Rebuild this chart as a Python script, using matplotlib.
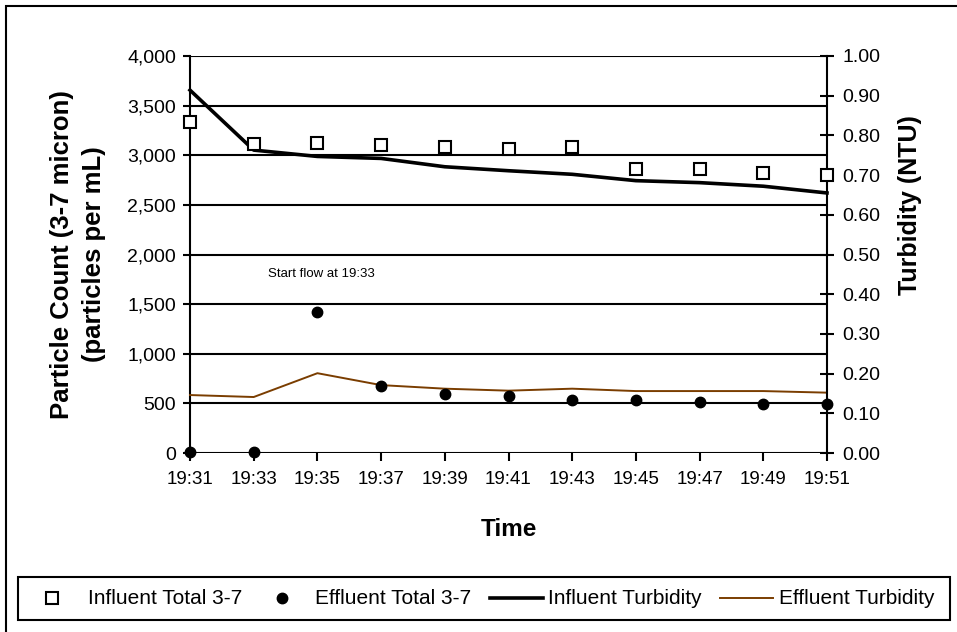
import matplotlib
matplotlib.use("Agg")
import matplotlib.pyplot as plt
from matplotlib.lines import Line2D
from matplotlib.patches import Rectangle

plt.rcParams['font.family'] = ['Liberation Sans', 'DejaVu Sans']

times = ["19:31", "19:33", "19:35", "19:37", "19:39", "19:41", "19:43",
         "19:45", "19:47", "19:49", "19:51"]
influent_total = [3330, 3110, 3120, 3100, 3080, 3060, 3080, 2860, 2860, 2820, 2800]
effluent_total = [10, 10, 1420, 675, 590, 570, 530, 530, 510, 490, 490]
influent_turb = [0.914, 0.763, 0.747, 0.742, 0.721, 0.711, 0.702, 0.686, 0.681, 0.672, 0.655]
effluent_turb = [0.146, 0.141, 0.201, 0.171, 0.162, 0.157, 0.162, 0.156, 0.156, 0.156, 0.152]
left_ticks = [0, 500, 1000, 1500, 2000, 2500, 3000, 3500, 4000]
right_ticks = [0.0, 0.1, 0.2, 0.3, 0.4, 0.5, 0.6, 0.7, 0.8, 0.9, 1.0]
labels = ["Influent Total 3-7", "Effluent Total 3-7", "Influent Turbidity", "Effluent Turbidity"]

BROWN = '#7a3d00'
W, H = 957, 632
fig = plt.figure(figsize=(W / 100, H / 100), dpi=100)
fig.patches.append(Rectangle((6 / W, -0.1), 1.2, (H - 6) / H + 0.1, transform=fig.transFigure,
                             fill=False, edgecolor='black', linewidth=1.5, zorder=0))

ax = fig.add_axes([190 / W, 1 - 453 / H, (827 - 190) / W, (453 - 56) / H])
ax2 = ax.twinx()
x = list(range(len(times)))

ax.set_ylim(0, 4000)
ax.set_xlim(0, len(times) - 1)
ax.set_yticks(left_ticks)
ax.set_yticklabels([f"{v:,}" for v in left_ticks], fontsize=14)
ax.set_xticks(x)
ax.set_xticklabels(times, fontsize=13.5)
ax.grid(axis='y', color='black', linewidth=1.5)
ax.set_axisbelow(True)
for s in ['top', 'bottom', 'right']:
    ax.spines[s].set_visible(False)
ax.spines['left'].set_linewidth(1.5)
ax.tick_params(axis='y', direction='out', length=5, width=1.5, pad=5)
ax.tick_params(axis='x', direction='out', length=6, width=1.5, pad=7)

ax2.set_ylim(0, 1.0)
ax2.set_yticks(right_ticks)
ax2.set_yticklabels([f"{v:.2f}" for v in right_ticks], fontsize=14)
ax2.tick_params(axis='y', direction='inout', length=10, width=1.5, pad=6)
for s in ['top', 'bottom', 'left']:
    ax2.spines[s].set_visible(False)
ax2.spines['right'].set_linewidth(1.5)

ax2.plot(x, influent_turb, color='black', linewidth=2.6, zorder=2, clip_on=False)
ax2.plot(x, effluent_turb, color=BROWN, linewidth=1.4, zorder=2, clip_on=False)

ax2.plot(x, [v / 4000 for v in influent_total], linestyle='none', marker='s',
         markersize=8.5, markerfacecolor='white', markeredgecolor='black',
         markeredgewidth=1.5, zorder=3, clip_on=False)
ax2.plot(x, [v / 4000 for v in effluent_total], linestyle='none', marker='o',
         markersize=7.5, color='black', zorder=3, clip_on=False)

ax2.text(1.225, 1800 / 4000, "Start flow at 19:33", fontsize=9.5, va='center', ha='left')

ax.set_ylabel("Particle Count (3-7 micron)\n(particles per mL)", fontsize=18.5,
              fontweight='bold', linespacing=1.4)
ax.yaxis.set_label_coords((78 - 190) / 637, 0.5)
ax.yaxis.label.set_va('center')
ax2.set_ylabel("Turbidity (NTU)", fontsize=18, fontweight='bold')
ax2.yaxis.set_label_coords((910 - 190) / 637, (453 - 205) / 397)
ax2.yaxis.label.set_va('center')
ax.set_xlabel("Time", fontsize=17.5, fontweight='bold')
ax.xaxis.set_label_coords(0.5, (453 - 530) / 397)
ax.xaxis.label.set_va('center')

# legend drawn in figure pixel coordinates
def fx(px):
    return px / W

def fy(py):
    return 1 - py / H

fig.patches.append(Rectangle((fx(18), fy(620)), (950 - 18) / W, 43 / H, transform=fig.transFigure,
                             fill=True, facecolor='white', edgecolor='black', linewidth=1.5))
ly = fy(598)
fig.lines.append(Line2D([fx(52)], [ly], transform=fig.transFigure, linestyle='none', marker='s',
                        markersize=8.5, markerfacecolor='white', markeredgecolor='black',
                        markeredgewidth=1.5))
fig.lines.append(Line2D([fx(282)], [ly], transform=fig.transFigure, linestyle='none', marker='o',
                        markersize=7.5, color='black'))
fig.lines.append(Line2D([fx(490), fx(543)], [ly, ly], transform=fig.transFigure,
                        color='black', linewidth=2.6))
fig.lines.append(Line2D([fx(720), fx(773)], [ly, ly], transform=fig.transFigure,
                        color=BROWN, linewidth=1.4))
for px, lab in zip([88, 315, 548, 779], labels):
    fig.text(fx(px), ly, lab, fontsize=15, ha='left', va='center')

fig.savefig("out.png", dpi=100)
